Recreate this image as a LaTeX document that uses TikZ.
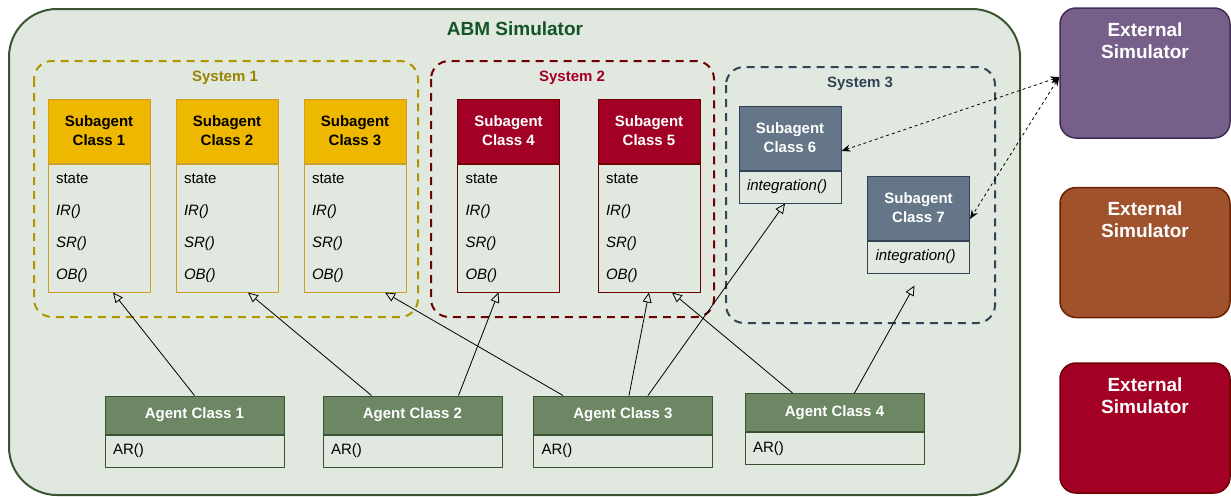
\documentclass[tikz,border=0pt]{standalone}
\usepackage{fontspec}
\setmainfont{Liberation Sans}
\usetikzlibrary{arrows.meta}

\definecolor{abmfill}{HTML}{E0E8DF}
\definecolor{abmline}{HTML}{3A5431}
\definecolor{abmtitle}{HTML}{145528}
\definecolor{sysone}{HTML}{B09500}
\definecolor{sysonetext}{HTML}{9C8400}
\definecolor{goldfill}{HTML}{EEB800}
\definecolor{goldline}{HTML}{C9A02A}
\definecolor{redfill}{HTML}{A20025}
\definecolor{redline}{HTML}{6F0000}
\definecolor{slatefill}{HTML}{647687}
\definecolor{slateline}{HTML}{314354}
\definecolor{agentfill}{HTML}{6D8764}
\definecolor{purplefill}{HTML}{76608A}
\definecolor{purpleline}{HTML}{432D57}
\definecolor{brownfill}{HTML}{A0522D}
\definecolor{brownline}{HTML}{6D1F00}

\tikzset{
  head/.style={draw, line width=1pt, minimum width=102pt, minimum height=64pt,
    align=center, font=\fontsize{15}{19}\selectfont\bfseries},
  body/.style={draw, line width=1pt, anchor=north, minimum width=102pt, minimum height=128pt,
    inner xsep=8pt, inner ysep=0pt, text width=86pt, align=left,
    font=\fontsize{15}{32}\selectfont},
  agenthead/.style={draw=abmline, fill=agentfill, text=white, line width=1pt,
    minimum width=179pt, minimum height=38pt, font=\fontsize{15}{19}\selectfont\bfseries},
  agentbody/.style={draw=abmline, line width=1pt, anchor=north, minimum width=179pt,
    minimum height=32pt, inner xsep=8pt, inner ysep=0pt, text width=163pt, align=left,
    font=\fontsize{15}{19}\selectfont},
  sysbox/.style={line width=2pt, dash pattern=on 8pt off 6pt, rounded corners=18pt},
  syslabel/.style={font=\fontsize{15}{19}\selectfont\bfseries},
  extbox/.style={line width=1.5pt, rounded corners=16pt, minimum width=170pt, minimum height=130pt},
  exttext/.style={anchor=north, inner sep=0pt, text=white, align=center,
    font=\fontsize{19}{22}\selectfont\bfseries},
  gen/.style={line width=0.8pt, -{Triangle[open, length=10pt, width=9pt]}},
  link/.style={line width=0.8pt, dash pattern=on 3pt off 3pt,
    {Stealth[length=9pt, width=7pt]}-{Stealth[length=9pt, width=7pt]}}
}

\begin{document}
\begin{tikzpicture}[x=1pt, y=-1pt]
\useasboundingbox (0,0) rectangle (1231,496);

% ABM simulator frame
\draw[abmline, fill=abmfill, line width=2pt, rounded corners=48pt] (9,9) rectangle (1020,495);
\node[text=abmtitle, font=\fontsize{19}{22}\selectfont\bfseries] (abm) at (515,29) {ABM Simulator};

% systems
\draw[sysbox, sysone] (34,61) rectangle (418,317);
\node[syslabel, text=sysonetext] (sys1) at (225,78) {System 1};
\draw[sysbox, redline] (431,61) rectangle (714,317);
\node[syslabel, text=redfill] (sys2) at (572,78) {System 2};
\draw[sysbox, slateline] (726,67) rectangle (995,323);
\node[syslabel, text=slateline] (sys3) at (860,84) {System 3};

% subagent classes
\foreach \n/\x in {1/99, 2/227, 3/355} {
  \node[head, draw=goldline, fill=goldfill] (s\n) at (\x,131) {Subagent\\Class \n};
  \node[body, draw=goldline] (s\n b) at (s\n.south) {state\\\textit{IR()}\\\textit{SR()}\\\textit{OB()}};
}
\foreach \n/\x in {4/508.5, 5/649} {
  \node[head, draw=redline, fill=redfill, text=white] (s\n) at (\x,131) {Subagent\\Class \n};
  \node[body, draw=redline] (s\n b) at (s\n.south) {state\\\textit{IR()}\\\textit{SR()}\\\textit{OB()}};
}
\node[head, draw=slateline, fill=slatefill, text=white] (s6) at (790,138) {Subagent\\Class 6};
\node[body, draw=slateline, minimum height=32pt, font=\fontsize{15}{19}\selectfont] (s6b) at (s6.south) {\textit{integration()}};
\node[head, draw=slateline, fill=slatefill, text=white] (s7) at (918.5,208) {Subagent\\Class 7};
\node[body, draw=slateline, minimum height=32pt, font=\fontsize{15}{19}\selectfont] (s7b) at (s7.south) {\textit{integration()}};

% agent classes
\node[agenthead] (a1) at (194.5,415) {Agent Class 1};
\node[agentbody] (a1b) at (a1.south) {AR()};
\node[agenthead] (a2) at (412.5,415) {Agent Class 2};
\node[agentbody] (a2b) at (a2.south) {AR()};
\node[agenthead] (a3) at (623,415) {Agent Class 3};
\node[agentbody] (a3b) at (a3.south) {AR()};
\node[agenthead] (a4) at (834.5,412.5) {Agent Class 4};
\node[agentbody] (a4b) at (a4.south) {AR()};

% external simulators
\node[extbox, draw=purpleline, fill=purplefill] (ext1) at (1145,73) {};
\node[exttext] (ext1t) at ([yshift=-15pt]ext1.north) {External\\Simulator};
\node[extbox, draw=brownline, fill=brownfill] (ext2) at (1145,252.5) {};
\node[exttext] (ext2t) at ([yshift=-15pt]ext2.north) {External\\Simulator};
\node[extbox, draw=redline, fill=redfill] (ext3) at (1145,428) {};
\node[exttext] (ext3t) at ([yshift=-15pt]ext3.north) {External\\Simulator};

% inheritance
\draw[gen] (a1.north) -- ([xshift=14pt]s1b.south);
\draw[gen] ([xshift=-41pt]a2.north) -- ([xshift=21pt]s2b.south);
\draw[gen] ([xshift=46pt]a2.north) -- ([xshift=-10pt]s4b.south);
\draw[gen] ([xshift=-60pt]a3.north) -- ([xshift=30pt]s3b.south);
\draw[gen] ([xshift=6pt]a3.north) -- (s5b.south);
\draw[gen] ([xshift=25pt]a3.north) -- ([xshift=-5pt]s6b.south);
\draw[gen] ([xshift=-42pt]a4.north) -- ([xshift=23pt]s5b.south);
\draw[gen] ([xshift=20pt]a4.north) -- ([xshift=-4pt, yshift=-12pt]s7b.south);

% coupling
\draw[link] ([yshift=-4pt]ext1.west) -- ([yshift=-13pt]s6.east);
\draw[link] ([yshift=-4pt]ext1.west) -- ([yshift=-11pt]s7.east);
\end{tikzpicture}
\end{document}
